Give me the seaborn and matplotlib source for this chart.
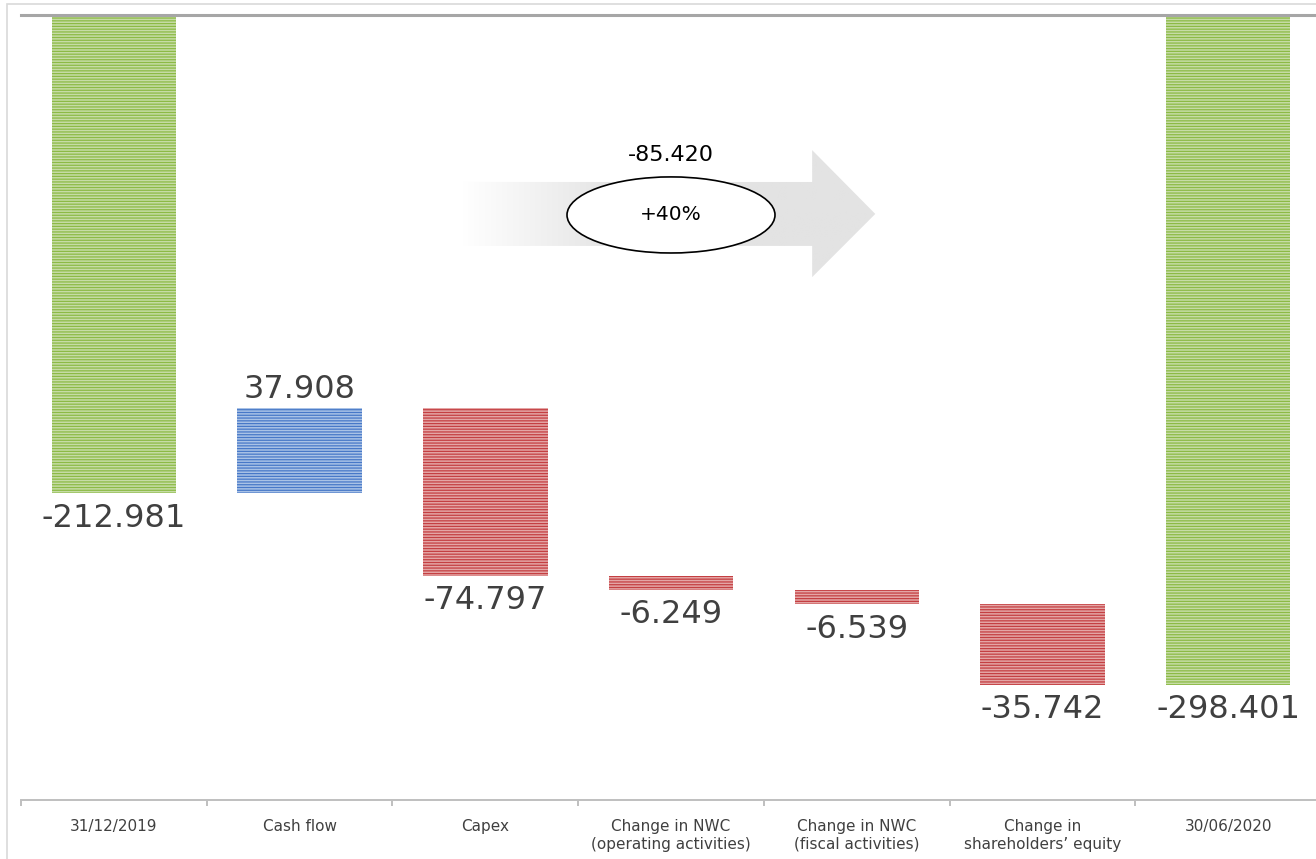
import matplotlib.pyplot as plt
import numpy as np
import seaborn as sns
from matplotlib.colors import to_rgb
from matplotlib.patches import Ellipse, Polygon, Rectangle

# Net financial position bridge (thousands), 31/12/2019 -> 30/06/2020
categories = [
    "31/12/2019",
    "Cash flow",
    "Capex",
    "Change in NWC\n(operating activities)",
    "Change in NWC\n(fiscal activities)",
    "Change in\nshareholders’ equity",
    "30/06/2020",
]
opening = -212.981
changes = [37.908, -74.797, -6.249, -6.539, -35.742]
closing = -298.401
total_change = "-85.420"
total_change_pct = "+40%"

# waterfall: totals hang from 0, steps float on the running balance
heights = [opening] + changes + [closing]
bottoms = [0.0]
running = opening
for c in changes:
    bottoms.append(running)
    running += c
bottoms.append(0.0)
kinds = ["total"] + ["up" if c > 0 else "down" for c in changes] + ["total"]

face = {"total": "#c6dca6", "up": "#a9c2e6", "down": "#e4a5a5"}
stripe = {"total": "#8cba45", "up": "#4778c8", "down": "#c43f42"}
text_col = "#404040"

sns.set_style("white")
plt.rcParams["font.family"] = ["DejaVu Sans"]
plt.rcParams["hatch.linewidth"] = 0.9

fig = plt.figure(figsize=(13.16, 8.59), dpi=100)
ax = fig.add_axes([21 / 1316, 59 / 859, 1300 / 1316, 785 / 859])

sns.barplot(x=categories, y=heights, bottom=bottoms, color="#cccccc",
            width=0.67, hatch="------", linewidth=0, ax=ax)
for patch, kind in zip(ax.patches, kinds):
    patch.set_facecolor(face[kind])
    patch.set_edgecolor(stripe[kind])
    patch.set_linewidth(0)

# value labels at the moving end of each bar
for i, (h, b, kind) in enumerate(zip(heights, bottoms, kinds)):
    end = b + h
    if kind == "up":
        ax.annotate(f"{h:.3f}", (i, end), xytext=(0, 2), textcoords="offset points",
                    ha="center", va="bottom", fontsize=23, color=text_col)
    else:
        ax.annotate(f"{h:.3f}", (i, end), xytext=(0, -7), textcoords="offset points",
                    ha="center", va="top", fontsize=23, color=text_col)

ax.set_yticks([])
ax.set_xlabel("")
ax.set_ylabel("")
ax.set_xticks(range(len(categories)))
ax.set_xticklabels(categories, fontsize=11, color=text_col, linespacing=1.2)
ax.set_xticks(np.arange(-0.5, len(categories), 1.0), minor=True)
ax.tick_params(axis="x", which="major", length=0, pad=14)
ax.tick_params(axis="x", which="minor", bottom=True, length=4, direction="out",
               color="#bfbfbf", width=1.4)
for side in ["left", "right"]:
    ax.spines[side].set_visible(False)
ax.spines["top"].set_color("#a6a6a6")
ax.spines["top"].set_linewidth(2.2)
ax.spines["top"].set_zorder(5)
ax.spines["bottom"].set_color("#bfbfbf")
ax.spines["bottom"].set_linewidth(1.4)

# grey gradient arrow with the overall change
x0, xh, xt = 1.875, 3.76, 4.10
yb_top, yb_bot, yh_top, yh_bot = -74.4, -102.9, -60.2, -116.8
ymid = (yb_top + yb_bot) / 2
arrow = Polygon([(x0, yb_top), (xh, yb_top), (xh, yh_top), (xt, ymid),
                 (xh, yh_bot), (xh, yb_bot), (x0, yb_bot)],
                closed=True, facecolor="none", edgecolor="none")
ax.add_patch(arrow)
grey = np.array(to_rgb("#e3e3e3"))
ramp = np.clip(np.linspace(0, 1, 400) / 0.38, 0, 1)
grad = (1 - ramp)[:, None] * np.ones(3) + ramp[:, None] * grey
img = ax.imshow(grad[None, :, :], extent=(x0, xt, yh_bot, yh_top),
                aspect="auto", zorder=3, interpolation="bilinear")
img.set_clip_path(arrow)
ax.set_ylim(-349.8, 0)
ax.set_xlim(-0.5, len(categories) - 0.5)

ax.add_patch(Ellipse((3.0, -89.1), 1.12, 33.9, facecolor="white",
                     edgecolor="black", linewidth=1.2, zorder=4))
ax.text(3.0, -89.1, total_change_pct, ha="center", va="center",
        fontsize=14.5, color="black", zorder=5)
ax.text(3.0, -62.5, total_change, ha="center", va="center",
        fontsize=16, color="black", zorder=5)

# light frame around the slide
fig.add_artist(Rectangle((7 / 1316, -0.1), 1.2, (859 - 4) / 859 + 0.1,
                         transform=fig.transFigure, fill=False,
                         edgecolor="#d9d9d9", linewidth=1.2))

fig.savefig("out.png", dpi=100)
